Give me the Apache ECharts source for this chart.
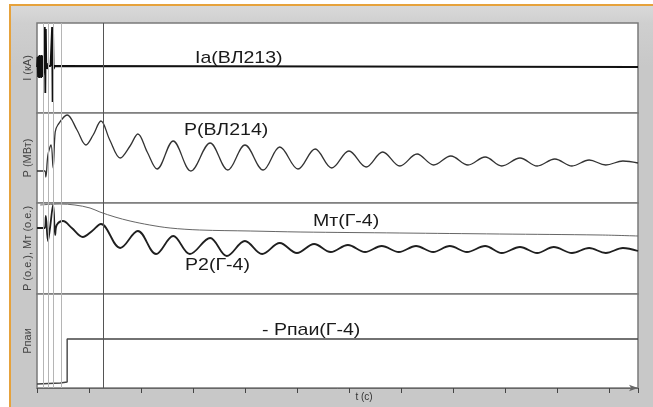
<!DOCTYPE html>
<html>
<head>
<meta charset="utf-8">
<script src="https://cdn.jsdelivr.net/npm/echarts@6/dist/echarts.min.js"></script>
<style>
  html, body { margin: 0; padding: 0; background: #ffffff; }
  #frame { position: absolute; left: 9px; top: 4px; width: 642px; height: 401px;
    border-left: 2px solid #e6a23c; border-top: 2px solid #e6a23c;
    background: linear-gradient(to bottom, #d9d9d9 0px, #cfcfcf 18px, #c8c8c8 60px, #c8c8c8 100%); }
  #chart { position: absolute; left: 0; top: 0; width: 653px; height: 407px; }
</style>
</head>
<body>
<div id="frame"></div>
<div id="chart"></div>
<script>
// ---- time axis (seconds) ----
const xMax = 11.56;
const tickStep = 1;

// ---- panel 1: Ia(ВЛ213), current ----
const iaT = [0, 0.01, 0.02, 0.03, 0.04, 0.05, 0.06, 0.07, 0.08, 0.09, 0.10, 0.11, 0.12, 0.13, 0.14, 0.15, 0.16, 0.17, 0.18, 0.19, 0.20, 0.22, 0.24, 0.26, 0.28, 0.29, 0.30, 0.31, 0.32, 0.34, 0.36, 11.56];
const iaV = [46, 56, 36, 57, 35, 58, 36, 57, 35, 58, 36, 57, 38, 55, 40, 86, 20, 84, 44, 50, 44, 47, 45, 47, 45, 86, 11, 80, 44, 47, 46, 46];

// ---- panel 2: P(ВЛ214), active power ----
const pT = [0, 0.15, 0.17, 0.21, 0.27, 0.31, 0.35, 0.40, 0.58, 0.77, 0.94, 1.08, 1.23, 1.40, 1.60, 1.79, 1.94, 2.12, 2.31, 2.62, 2.96, 3.33, 3.67, 4.00, 4.35, 4.67, 5.02, 5.35, 5.67, 6.00, 6.33, 6.65, 6.98, 7.31, 7.63, 7.96, 8.29, 8.62, 8.94, 9.29, 9.62, 9.96, 10.29, 10.62, 10.94, 11.27, 11.56];
const pV = [32, 32, 26, 48, 58, 35, 71, 78, 88, 73, 58, 68, 82, 63, 45, 57, 69, 51, 34, 62, 32, 60, 33, 58, 33, 56, 34, 54, 35, 52, 36, 51, 37, 49, 38, 47, 38, 46, 37, 45, 37, 44, 37, 43, 38, 42, 40];

// ---- panel 3: P2(Г-4) and Мт(Г-4) ----
const p2T = [0, 0.15, 0.17, 0.21, 0.25, 0.31, 0.35, 0.38, 0.50, 0.67, 0.88, 1.06, 1.23, 1.60, 1.94, 2.29, 2.62, 2.94, 3.33, 3.65, 4.00, 4.33, 4.67, 5.00, 5.33, 5.65, 5.98, 6.31, 6.63, 6.96, 7.29, 7.62, 7.94, 8.27, 8.62, 8.94, 9.29, 9.62, 9.94, 10.29, 10.62, 10.94, 11.27, 11.56];
const p2V = [66, 66, 78, 53, 66, 89, 59, 69, 73, 66, 57, 63, 70, 46, 63, 40, 58, 40, 56, 38, 53, 40, 51, 41, 50, 42, 49, 42, 48, 42, 48, 42, 48, 42, 48, 41, 47, 41, 47, 41, 46, 41, 46, 43];
const mtT = [0.06, 0.44, 0.73, 1.02, 1.21, 1.50, 1.79, 2.17, 2.56, 3.13, 4.10, 5.06, 6.98, 8.90, 10.83, 11.56];
const mtV = [89, 90, 89, 86, 82, 77, 73, 69, 66, 64, 63, 62, 61, 60, 59, 58];

// ---- panel 4: Рпаи(Г-4) ----
const rpT = [0, 0.45, 0.58, 0.58, 11.56];
const rpV = [4, 5, 6, 49, 49];

// ---- vertical event markers (s) ----
const markerT = [0.12, 0.21, 0.31, 0.46, 1.27];
const markerStrong = [false, false, false, false, true];

// ---- panel texts ----
const panelNames = ['I (кА)', 'P (МВт)', 'P (о.е.), Мт (о.е.)', 'Рпаи'];
const panelMax = [90, 90, 91, 94];
const axisName = 't (c)';

const zip = (t, v) => t.map((x, i) => [x, v[i]]);

const gridTops = [23, 113, 203, 294];
const grids = gridTops.map((top, i) => ({
  left: 37, right: 15, top: top, height: panelMax[i],
  show: true, backgroundColor: '#ffffff', borderColor: '#7a7a7a', borderWidth: 1.5
}));

const xAxes = [0, 1, 2, 3].map(i => ({
  type: 'value', gridIndex: i, min: 0, max: xMax, interval: tickStep,
  axisLine: i === 3 ? { show: true, lineStyle: { color: '#666', width: 1 }, symbol: ['none', 'arrow'], symbolSize: [5, 9] } : { show: false },
  axisTick: { show: i === 3, inside: false, length: 5, lineStyle: { color: '#444' } },
  axisLabel: { show: false },
  splitLine: { show: false },
  name: i === 3 ? axisName : '',
  nameLocation: 'middle', nameGap: 4,
  nameTextStyle: { fontFamily: 'Liberation Sans', fontSize: 10, color: '#333', padding: [0, 0, 0, 53], verticalAlign: 'top' }
}));

const yAxes = [0, 1, 2, 3].map(i => ({
  type: 'value', gridIndex: i, min: 0, max: panelMax[i],
  axisLine: { show: false }, axisTick: { show: false }, axisLabel: { show: false }, splitLine: { show: false },
  name: panelNames[i], nameLocation: 'middle', nameRotate: 90, nameGap: 4,
  nameTextStyle: { fontFamily: 'Liberation Sans', fontSize: 11, color: '#444' }
}));

const markLineFor = () => ({
  silent: true, symbol: 'none', label: { show: false },
  data: markerT.map((t, k) => ({
    xAxis: t,
    lineStyle: { color: markerStrong[k] ? '#555' : '#b5b5b5', width: 1, type: 'solid' }
  }))
});

const lineBase = { type: 'line', showSymbol: false, symbol: 'none', animation: false };
const wave = { smooth: 0.36 };

const series = [
  Object.assign({}, lineBase, { name: 'Ia(ВЛ213)', xAxisIndex: 0, yAxisIndex: 0, data: zip(iaT, iaV), lineStyle: { color: '#111', width: 1.8 }, markLine: markLineFor(), z: 3 }),
  Object.assign({}, lineBase, wave, { name: 'P(ВЛ214)', xAxisIndex: 1, yAxisIndex: 1, data: zip(pT, pV), lineStyle: { color: '#333', width: 1.3 }, markLine: markLineFor(), z: 3 }),
  Object.assign({}, lineBase, wave, { name: 'Мт(Г-4)', xAxisIndex: 2, yAxisIndex: 2, data: zip(mtT, mtV), lineStyle: { color: '#666', width: 1 }, markLine: markLineFor(), z: 3 }),
  Object.assign({}, lineBase, wave, { name: 'P2(Г-4)', xAxisIndex: 2, yAxisIndex: 2, data: zip(p2T, p2V), lineStyle: { color: '#1f1f1f', width: 1.8 }, z: 4 }),
  Object.assign({}, lineBase, { name: 'Рпаи(Г-4)', xAxisIndex: 3, yAxisIndex: 3, data: zip(rpT, rpV), lineStyle: { color: '#444', width: 1.4 }, markLine: markLineFor(), z: 3 })
];

const labelFont = '17px "Liberation Sans", Arial, sans-serif';
const labelDefs = [
  { text: 'Ia(ВЛ213)', x: 195, y: 58 },
  { text: 'P(ВЛ214)', x: 184, y: 130 },
  { text: 'Мт(Г-4)', x: 313, y: 221 },
  { text: 'P2(Г-4)', x: 185, y: 265 },
  { text: '- Рпаи(Г-4)', x: 262, y: 330 }
];

const chart = echarts.init(document.getElementById('chart'), null, { renderer: 'canvas' });
chart.setOption({
  animation: false,
  backgroundColor: 'transparent',
  grid: grids,
  xAxis: xAxes,
  yAxis: yAxes,
  series: series,
  graphic: labelDefs.map(d => ({
    type: 'text', x: d.x, y: d.y, scaleX: 1.15, z: 20,
    style: { text: d.text, font: labelFont, fill: '#1a1a1a', align: 'left', verticalAlign: 'middle' }
  }))
});
</script>
</body>
</html>
